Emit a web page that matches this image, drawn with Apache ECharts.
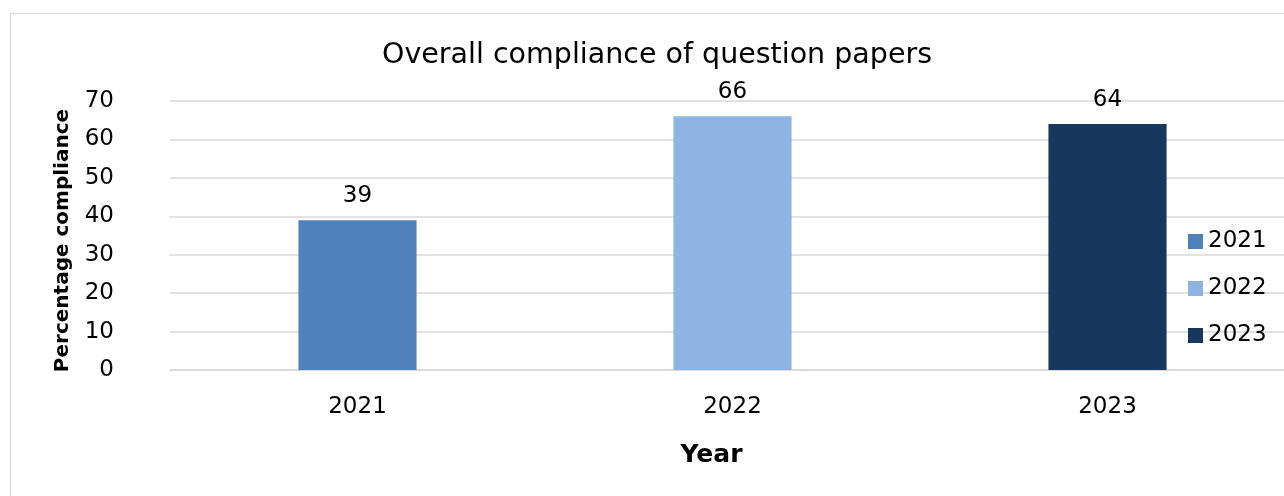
<!DOCTYPE html>
<html>
<head>
<meta charset="utf-8">
<script src="https://cdn.jsdelivr.net/npm/echarts@6/dist/echarts.min.js"></script>
<style>
  html, body { margin: 0; padding: 0; background: #fff; }
  #frame { position: absolute; left: 10px; top: 13px; width: 1290px; height: 500px; border: 1px solid #d9d9d9; box-sizing: border-box; }
  #chart { position: absolute; left: 0; top: 0; width: 1284px; height: 496px; }
</style>
</head>
<body>
<div id="frame"></div>
<div id="chart"></div>
<script>
const years = ["2021", "2022", "2023"];
const compliance = [39, 66, 64];
const colors = ["#4F81BD", "#8EB4E3", "#17375E"];
const yTicks = { min: 0, max: 70, step: 10 };

const font = "DejaVu Sans";
const myChart = echarts.init(document.getElementById("chart"));

// one series per year so the legend lists each year
const series = years.map((y, i) => ({
  name: y,
  type: "bar",
  barWidth: "31.5%",
  barGap: "-100%",
  itemStyle: { color: colors[i] },
  label: {
    show: true,
    position: "top",
    distance: 13,
    color: "#000",
    fontFamily: font,
    fontSize: 23
  },
  data: years.map((_, j) => (j === i ? compliance[i] : "-"))
}));

myChart.setOption({
  animation: false,
  textStyle: { fontFamily: font },
  title: {
    text: "Overall compliance of question papers",
    left: 652,
    top: 36,
    textAlign: "center",
    textStyle: { fontFamily: font, fontSize: 28.5, fontWeight: "normal", color: "#000" }
  },
  legend: {
    orient: "vertical",
    left: 1183,
    top: 225,
    itemWidth: 15,
    itemHeight: 15,
    itemGap: 24,
    icon: "rect",
    textStyle: { fontFamily: font, fontSize: 23, color: "#000" },
    data: years
  },
  grid: { left: 170, right: -11, top: 101, bottom: 126, outerBoundsMode: "none" },
  xAxis: {
    type: "category",
    data: years,
    name: "Year",
    nameLocation: "middle",
    nameGap: 73,
    nameTextStyle: { fontFamily: font, fontSize: 25, fontWeight: "bold", color: "#000", padding: [0, 42, 0, 0] },
    axisLine: { lineStyle: { color: "#d9d9d9", width: 1.5 } },
    axisTick: { show: false },
    axisLabel: { fontFamily: font, fontSize: 23, color: "#000", margin: 26 }
  },
  yAxis: {
    type: "value",
    min: yTicks.min,
    max: yTicks.max,
    interval: yTicks.step,
    name: "Percentage compliance",
    nameLocation: "middle",
    nameGap: 97,
    nameTextStyle: { fontFamily: font, fontSize: 20, fontWeight: "bold", color: "#000", padding: [0, 10, 0, 0] },
    axisLine: { show: false },
    axisTick: { show: false },
    axisLabel: { fontFamily: font, fontSize: 23, color: "#000", margin: 56 },
    splitLine: { lineStyle: { color: "#d9d9d9", width: 1.5 } }
  },
  series: series
});
</script>
</body>
</html>
